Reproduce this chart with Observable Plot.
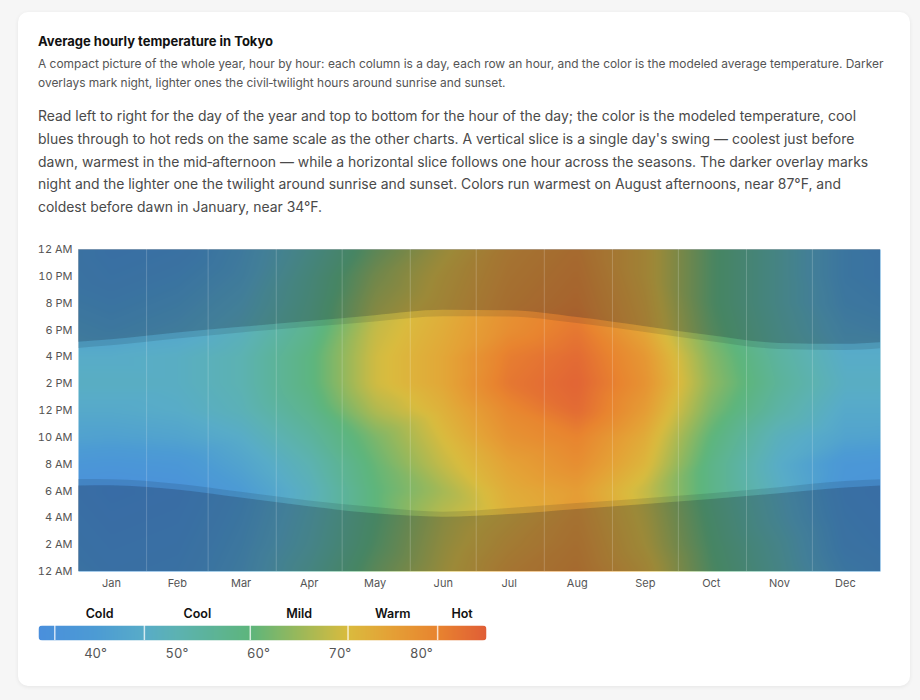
<!DOCTYPE html>
<html>
<head>
<meta charset="utf-8">
<script src="https://cdn.jsdelivr.net/npm/d3@7"></script>
<script src="https://cdn.jsdelivr.net/npm/@observablehq/plot@0.6"></script>
<style>
  html, body { margin: 0; padding: 0; background: #f6f6f6; }
  body { width: 920px; height: 700px; position: relative; font-family: Inter, "Noto Sans", sans-serif; }
  .card { position: absolute; left: 18px; top: 12px; width: 892px; height: 674px; background: #fff;
          border-radius: 10px; box-shadow: 0 1px 4px rgba(0,0,0,0.07); box-sizing: border-box; padding: 20px 20px 0 20px; }
  h1 { margin: 0; font-size: 13px; font-weight: 700; color: #111; line-height: 18px; }
  .sub { margin: 4px 0 0 0; font-size: 11.95px; color: #555; line-height: 19px; width: 850px; }
  .para { margin: 13px 0 0 0; font-size: 13.95px; color: #4a4a4a; line-height: 22.8px; width: 852px; }
  #chart { margin-top: 19px; }
  #legend { margin-top: 10px; }
  svg { overflow: visible; }
</style>
</head>
<body>
<div class="card">
  <h1>Average hourly temperature in Tokyo</h1>
  <p class="sub">A compact picture of the whole year, hour by hour: each column is a day, each row an hour, and the color is the modeled average temperature. Darker overlays mark night, lighter ones the civil‑twilight hours around sunrise and sunset.</p>
  <p class="para">Read left to right for the day of the year and top to bottom for the hour of the day; the color is the modeled temperature, cool blues through to hot reds on the same scale as the other charts. A vertical slice is a single day's swing — coolest just before dawn, warmest in the mid‑afternoon — while a horizontal slice follows one hour across the seasons. The darker overlay marks night and the lighter one the twilight around sunrise and sunset. Colors run warmest on August afternoons, near 87°F, and coldest before dawn in January, near 34°F.</p>
  <div id="chart"></div>
  <div id="legend"></div>
</div>
<script>
// ---- data ----
const monthLabels = ["Jan","Feb","Mar","Apr","May","Jun","Jul","Aug","Sep","Oct","Nov","Dec"];
const monthMidDays = [15, 45, 74, 105, 135, 166, 196, 227, 258, 288, 319, 349];
const monthStartDays = [31, 59, 90, 120, 151, 181, 212, 243, 273, 304, 334];
const hourSamples = [0, 2, 4, 6, 8, 10, 12, 14, 16, 18, 20, 22];
// modeled average temperature (°F) at each sampled hour, per month
const tJan = [37, 36, 35, 34, 37, 42, 45, 47, 46, 42, 40, 38];
const tFeb = [38, 37, 36, 35, 38, 43, 46, 47, 47, 44, 42, 40];
const tMar = [43, 42, 41, 40, 43, 46, 49, 50, 50, 48, 46, 44];
const tApr = [52, 50, 49, 48, 50, 53, 56, 58, 58, 56, 55, 54];
const tMay = [62, 60, 59, 59, 60, 62, 67, 70, 70, 69, 67, 65];
const tJun = [70, 69, 68, 66, 69, 71, 73, 75, 75, 74, 73, 72];
const tJul = [77, 75, 73, 74, 76, 79, 81, 84, 83, 80, 79, 78];
const tAug = [80, 79, 78, 77, 80, 82, 86, 87, 86, 84, 82, 81];
const tSep = [73, 71, 70, 69, 72, 74, 77, 79, 78, 75, 74, 73];
const tOct = [60, 59, 58, 57, 57, 59, 62, 64, 63, 61, 60, 60];
const tNov = [51, 50, 48, 47, 46, 48, 52, 54, 53, 52, 51, 51];
const tDec = [41, 39, 38, 37, 38, 43, 45, 47, 46, 44, 42, 41];
const monthTemps = [tJan, tFeb, tMar, tApr, tMay, tJun, tJul, tAug, tSep, tOct, tNov, tDec];

// sun times (hours) through the year
const sunDays     = [0, 15, 45, 74, 105, 135, 166, 196, 227, 258, 288, 319, 349, 365];
const dawnHours   = [6.38, 6.40, 6.07, 5.47, 4.82, 4.30, 4.05, 4.25, 4.62, 5.00, 5.37, 5.80, 6.22, 6.37];
const sunriseHours= [6.85, 6.84, 6.50, 5.90, 5.25, 4.77, 4.42, 4.70, 5.07, 5.43, 5.80, 6.25, 6.70, 6.84];
const sunsetHours = [16.63, 16.82, 17.33, 17.78, 18.20, 18.60, 18.98, 18.97, 18.48, 17.82, 17.13, 16.55, 16.47, 16.60];
const duskHours   = [17.08, 17.27, 17.77, 18.20, 18.63, 19.07, 19.47, 19.43, 18.93, 18.25, 17.57, 17.00, 16.93, 17.05];

const hourTicks = [0, 2, 4, 6, 8, 10, 12, 14, 16, 18, 20, 22, 24];
const hourTickLabels = ["12 AM","2 AM","4 AM","6 AM","8 AM","10 AM","12 PM","2 PM","4 PM","6 PM","8 PM","10 PM","12 AM"];

const colorDomain = [33, 40, 46, 50, 59, 65, 71, 76, 82, 88];
const colorRange  = ["#4a8fdc", "#4c9bd4", "#58acc8", "#5cb2b2", "#5db57c", "#9ab85a", "#dabb3e", "#e4a236", "#e8842f", "#e05e36"];

const legendTicks = [40, 50, 60, 70, 80];
const bandNames = ["Cold", "Cool", "Mild", "Warm", "Hot"];
const bandEdges = [35, 46, 59, 71, 82, 88];

// ---- tables ----
const grid = [];
monthTemps.forEach((temps, m) => {
  const days = [monthMidDays[m]];
  if (m === 0) days.push(monthMidDays[m] + 365);
  if (m === 11) days.push(monthMidDays[m] - 365);
  days.forEach(day => {
    hourSamples.forEach((h, i) => grid.push({day, hour: h, temp: temps[i]}));
    grid.push({day, hour: 24, temp: temps[0]});
  });
});
const sun = sunDays.map((day, i) => ({day, dawn: dawnHours[i], sunrise: sunriseHours[i], sunset: sunsetHours[i], dusk: duskHours[i]}));

const night = "#0f172a";
const chart = Plot.plot({
  width: 850, height: 354,
  marginTop: 11, marginBottom: 21, marginLeft: 40, marginRight: 8,
  style: {fontFamily: "Inter, sans-serif", fontSize: "11px", color: "#555"},
  x: {domain: [0, 365], ticks: monthMidDays, tickFormat: d => monthLabels[monthMidDays.indexOf(d)], tickSize: 0, tickPadding: 8, label: null},
  y: {domain: [0, 24], ticks: hourTicks, tickFormat: d => hourTickLabels[hourTicks.indexOf(d)], tickSize: 0, tickPadding: 6, label: null},
  color: {type: "linear", domain: colorDomain, range: colorRange, clamp: true},
  marks: [
    Plot.raster(grid, {x: "day", y: "hour", fill: "temp", interpolate: "barycentric", blur: 3, x1: 0, x2: 365, y1: 0, y2: 24}),
    Plot.areaY(sun, {x: "day", y1: 0, y2: "dawn", fill: night, fillOpacity: 0.3, curve: "monotone-x"}),
    Plot.areaY(sun, {x: "day", y1: "dawn", y2: "sunrise", fill: night, fillOpacity: 0.12, curve: "monotone-x"}),
    Plot.areaY(sun, {x: "day", y1: "sunset", y2: "dusk", fill: night, fillOpacity: 0.12, curve: "monotone-x"}),
    Plot.areaY(sun, {x: "day", y1: "dusk", y2: 24, fill: night, fillOpacity: 0.3, curve: "monotone-x"}),
    Plot.ruleX(monthStartDays, {stroke: "white", strokeOpacity: 0.2})
  ]
});
document.getElementById("chart").append(chart);

const bandMids = bandNames.map((n, i) => ({name: n, t: (bandEdges[i] + bandEdges[i + 1]) / 2}));
const legend = Plot.plot({
  width: 460, height: 64,
  marginTop: 23, marginBottom: 26, marginLeft: 0, marginRight: 12,
  style: {fontFamily: "Inter, sans-serif", fontSize: "13px", color: "#555"},
  x: {domain: [33, 88], ticks: legendTicks, tickFormat: d => d + "°", tickSize: 0, tickPadding: 8, label: null},
  y: {domain: [0, 1], axis: null},
  color: {type: "linear", domain: colorDomain, range: colorRange, clamp: true},
  marks: [
    Plot.raster({fill: (x, y) => x, x1: 33, x2: 88, y1: 0, y2: 1, width: 448, height: 1}),
    Plot.ruleX(bandEdges.slice(0, 5), {y1: 0, y2: 1, stroke: "white", strokeOpacity: 0.75, strokeWidth: 1.5}),
    Plot.text(bandMids, {x: "t", y: 1, text: "name", dy: -12, fill: "#111", fontWeight: 600, fontSize: 12.5})
  ]
});
document.getElementById("legend").append(legend);
legend.querySelectorAll("image").forEach(im => im.style.clipPath = "inset(0 round 4px)");
</script>
</body>
</html>
